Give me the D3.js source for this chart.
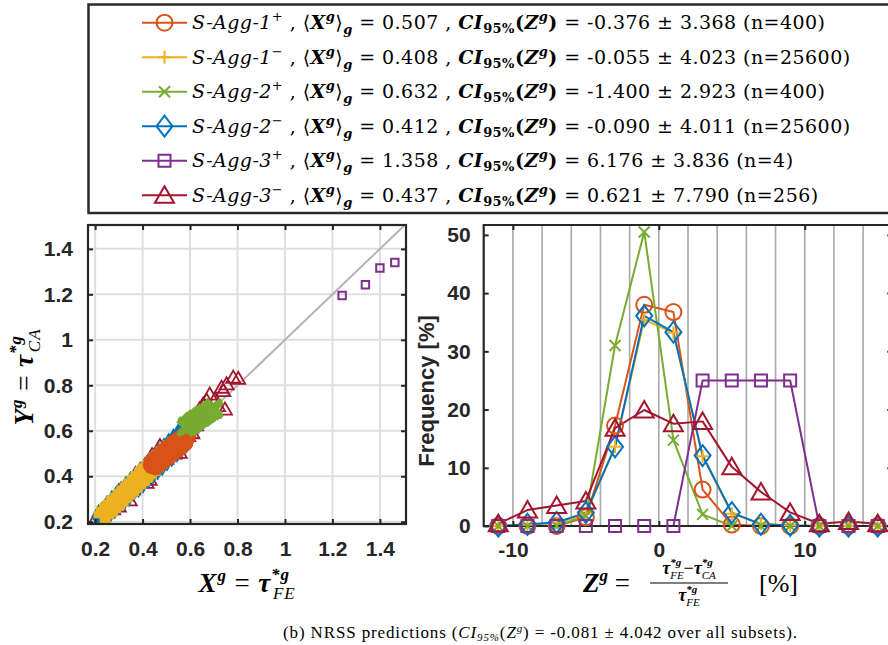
<!DOCTYPE html>
<html><head><meta charset="utf-8">
<script src="https://cdn.jsdelivr.net/npm/d3@7"></script>
<style>body{margin:0;background:#fff}svg{display:block}</style>
</head><body>
<svg id="c" width="888" height="645"></svg>
<script>
// ---------------- DATA ----------------
const seriesNames  = ["S-Agg-1","S-Agg-1","S-Agg-2","S-Agg-2","S-Agg-3","S-Agg-3"];
const seriesSigns  = ["+","\u2212","+","\u2212","+","\u2212"];
const seriesColors = ["#D95319","#EDB120","#77AC30","#0072BD","#7E2F8E","#A2142F"];
const seriesMarkers= ["circle","plus","x","diamond","square","triangle"];
const meanX  = ["0.507","0.408","0.632","0.412","1.358","0.437"];
const ciMean = ["-0.376","-0.055","-1.400","-0.090","6.176","0.621"];
const ciHalf = ["3.368","4.023","2.923","4.011","3.836","7.790"];
const nCount = ["400","25600","400","25600","4","256"];

// histogram of Z (right panel)
const binCenters = [-11,-9,-7,-5,-3,-1,1,3,5,7,9,11,13,15];
const freq1p = [0,0,0,1.5,17.25,38,36.75,6.25,0.25,0,0,0,0,0];
const freq1m = [0,0.2,0.5,2,13.6,35.4,33.2,12,2.1,0.4,0.1,0,0,0];
const freq2p = [0,0,0,1.75,31,50.5,14.75,2,0,0,0,0,0,0];
const freq2m = [0,0.3,0.6,2.3,13.6,36.1,33.3,12.1,2.3,0.3,0.1,0,0,0];
const freq3p = [0,0,0,0,0,0,0,25,25,25,25,0,0,0];
const freq3m = [0.39,2.73,3.52,4.3,16.8,19.92,17.58,17.97,10.16,5.86,2.34,0.39,0.78,0.39];
const binEdges = [-10,-8,-6,-4,-2,0,2,4,6,8,10,12,14];
const xTicksR = [-10,0,10];
const xTickLabelsR = ["-10","0","10"];
const yTicksR = [0,10,20,30,40,50];

// scatter X^g vs Y^g (left panel)
const xTicksL = [0.2,0.4,0.6,0.8,1,1.2,1.4];
const yTicksL = [0.2,0.4,0.6,0.8,1,1.2,1.4];
const tickLabelsL = ["0.2","0.4","0.6","0.8","1","1.2","1.4"];
const cloud1p = [[0.44,0.45],[0.445,0.465],[0.455,0.445],[0.46,0.468],[0.47,0.485],[0.475,0.462],[0.48,0.49],[0.49,0.505],[0.495,0.478],[0.50,0.505],[0.51,0.522],[0.515,0.495],[0.52,0.52],[0.53,0.54],[0.535,0.512],[0.54,0.535],[0.55,0.555],[0.555,0.53],[0.56,0.55],[0.57,0.57],[0.575,0.548],[0.58,0.565],[0.585,0.575]];
const cloud1m = [[0.235,0.232],[0.245,0.25],[0.25,0.238],[0.26,0.266],[0.265,0.254],[0.275,0.28],[0.28,0.268],[0.29,0.296],[0.295,0.283],[0.305,0.312],[0.31,0.298],[0.32,0.328],[0.325,0.313],[0.335,0.344],[0.34,0.328],[0.35,0.36],[0.355,0.343],[0.365,0.376],[0.37,0.358],[0.38,0.392],[0.385,0.373],[0.395,0.408],[0.40,0.388],[0.41,0.424],[0.415,0.403],[0.425,0.44],[0.43,0.418],[0.44,0.456],[0.445,0.433],[0.455,0.472],[0.46,0.448],[0.47,0.488],[0.475,0.463],[0.485,0.503],[0.49,0.478],[0.50,0.515],[0.505,0.493],[0.52,0.53]];
const cloud2p = [[0.58,0.612],[0.585,0.625],[0.595,0.617],[0.60,0.632],[0.61,0.625],[0.612,0.645],[0.622,0.637],[0.625,0.655],[0.635,0.648],[0.64,0.663],[0.65,0.656],[0.652,0.673],[0.662,0.665],[0.665,0.68],[0.675,0.674],[0.68,0.69],[0.69,0.684],[0.695,0.698],[0.705,0.693],[0.70,0.705]];
const cloud2m = [[0.215,0.222],[0.225,0.214],[0.23,0.236],[0.245,0.228],[0.25,0.262],[0.262,0.246],[0.27,0.284],[0.283,0.266],[0.29,0.305],[0.302,0.285],[0.31,0.326],[0.322,0.303],[0.33,0.347],[0.343,0.322],[0.35,0.368],[0.362,0.342],[0.37,0.389],[0.383,0.36],[0.39,0.41],[0.402,0.379],[0.41,0.431],[0.423,0.398],[0.43,0.452],[0.443,0.418],[0.45,0.473],[0.463,0.437],[0.47,0.494],[0.483,0.456],[0.49,0.515],[0.503,0.476],[0.51,0.536],[0.523,0.495],[0.53,0.556],[0.545,0.515],[0.55,0.577],[0.565,0.536],[0.57,0.596],[0.585,0.556],[0.58,0.604],[0.595,0.575]];
const cloud3p = [[1.241,1.195],[1.339,1.242],[1.40,1.316],[1.463,1.34]];
const cloud3m = [[0.205,0.212],[0.235,0.21],[0.276,0.25],[0.30,0.262],[0.346,0.29],[0.36,0.338],[0.417,0.367],[0.43,0.38],[0.30,0.33],[0.37,0.405],[0.44,0.488],[0.473,0.528],[0.50,0.472],[0.535,0.495],[0.557,0.499],[0.592,0.572],[0.61,0.585],[0.60,0.636],[0.625,0.62],[0.64,0.69],[0.655,0.711],[0.67,0.728],[0.683,0.755],[0.705,0.733],[0.697,0.675],[0.718,0.704],[0.747,0.689],[0.74,0.77],[0.733,0.785],[0.754,0.80],[0.782,0.829],[0.803,0.824]];

// ---------------- HELPERS ----------------
const svg = d3.select("#c");
const SERIF = "'Liberation Serif','Times New Roman',serif";
const MATH = "'DejaVu Serif','Liberation Serif',serif";
const SANS = "'Liberation Sans',Arial,Helvetica,sans-serif";

function rich(parent, x, y, parts, base) {
  const t = parent.append("text").attr("x", x).attr("y", y)
    .style("font-family", base.family).style("font-size", base.size + "px")
    .attr("fill", "#000");
  if (base.anchor) t.attr("text-anchor", base.anchor);
  let cur = 0, prev = null;
  parts.forEach(p => {
    const ts = t.append("tspan").text(p.t);
    const sh = p.sh || 0;
    if (sh - cur !== 0) ts.attr("dy", sh - cur);
    cur = sh;
    if (p.fs) ts.style("font-size", p.fs + "px");
    const s = p.s || "";
    ts.style("font-weight", s.includes("b") ? "bold" : "normal");
    ts.style("font-style", s.includes("i") ? "italic" : "normal");
    if (p.back && prev) ts.attr("dx", -prev.node().getComputedTextLength());
    prev = ts;
  });
  return t;
}
function fitWidth(t, target) {
  const w = t.node().getComputedTextLength();
  const nch = t.text().length;
  t.style("letter-spacing", ((target - w) / (nch - 1)) + "px");
}
function markerPath(type) {
  switch (type) {
    case "circle": return "M8,0A8,8 0 1,1 -8,0A8,8 0 1,1 8,0Z";
    case "plus": return "M-6.5,0H6.5M0,-6.5V6.5";
    case "x": return "M-5.5,-5.5L5.5,5.5M-5.5,5.5L5.5,-5.5";
    case "diamond": return "M0,-10.5L8,0L0,10.5L-8,0Z";
    case "square": return "M-6,-6H6V6H-6Z";
    case "triangle": return "M0,-9L9.5,7.5H-9.5Z";
  }
}

// ---------------- LEGEND ----------------
svg.append("rect").attr("x", 88.5).attr("y", 4.5).attr("width", 830).attr("height", 208.5)
  .attr("fill", "#fff").attr("stroke", "#2a2a2a").attr("stroke-width", 2.5);
const rowY = [22.7, 57.2, 91.7, 126.2, 160.7, 195.2];
const legendTexts = [];
seriesNames.forEach((nm, i) => {
  const y = rowY[i];
  const g = svg.append("g");
  g.append("line").attr("x1", 142).attr("x2", 187).attr("y1", y).attr("y2", y)
    .attr("stroke", seriesColors[i]).attr("stroke-width", 2);
  g.append("path").attr("transform", `translate(164.5,${y})`).attr("d", markerPath(seriesMarkers[i]))
    .attr("fill", "none").attr("stroke", seriesColors[i]).attr("stroke-width", 2);
  const t = rich(g, 192, y + 6.5, [
    {t: nm, s: "i"},
    {t: seriesSigns[i], s: "n", sh: -8, fs: 13},
    {t: " , \u27E8", s: "n", sh: 0},
    {t: "X", s: "bi"},
    {t: "g", s: "bi", sh: -8, fs: 13},
    {t: "\u27E9", s: "n", sh: 0},
    {t: "g", s: "bi", sh: 5, fs: 13},
    {t: " = " + meanX[i] + " , ", s: "n", sh: 0},
    {t: "CI", s: "bi"},
    {t: "95%", s: "b", sh: 4, fs: 13},
    {t: "(", s: "b", sh: 0},
    {t: "Z", s: "bi"},
    {t: "g", s: "bi", sh: -8, fs: 13},
    {t: ")", s: "b", sh: 0},
    {t: " = " + ciMean[i] + " \u00B1 " + ciHalf[i] + " (n=" + nCount[i] + ")", s: "n"}
  ], {family: MATH, size: 19});
  legendTexts.push(t);
});
{
  const w = legendTexts[0].node().getComputedTextLength();
  const nch = legendTexts[0].text().length;
  const ls = (633 - w) / (nch - 1);
  legendTexts.forEach(t => t.style("letter-spacing", ls + "px"));
}

// ---------------- LEFT PANEL ----------------
const L = {x0: 88, x1: 406, y0: 225, y1: 524};
const xL = d3.scaleLinear().domain([0.17, 1.51]).range([L.x0, L.x1]);
const yL = d3.scaleLinear().domain([0.19, 1.505]).range([L.y1, L.y0]);
svg.append("clipPath").attr("id", "clipL").append("rect")
  .attr("x", L.x0).attr("y", L.y0).attr("width", L.x1 - L.x0).attr("height", L.y1 - L.y0);
const gL = svg.append("g");
gL.selectAll(".gx").data(xTicksL).enter().append("line")
  .attr("x1", d => xL(d)).attr("x2", d => xL(d)).attr("y1", L.y0).attr("y2", L.y1)
  .attr("stroke", "#dedede").attr("stroke-width", 2);
gL.selectAll(".gy").data(yTicksL).enter().append("line")
  .attr("y1", d => yL(d)).attr("y2", d => yL(d)).attr("x1", L.x0).attr("x2", L.x1)
  .attr("stroke", "#dedede").attr("stroke-width", 2);
const pc = gL.append("g").attr("clip-path", "url(#clipL)");
pc.append("line").attr("x1", xL(0.1)).attr("y1", yL(0.1)).attr("x2", xL(1.6)).attr("y2", yL(1.6))
  .attr("stroke", "#b5b5b5").attr("stroke-width", 2);

function scatter(data, color, sym, size, filled, sw) {
  pc.append("g").selectAll("path").data(data).enter().append("path")
    .attr("transform", d => `translate(${xL(d[0])},${yL(d[1])})`)
    .attr("d", d3.symbol().type(sym).size(size))
    .attr("fill", filled ? color : "none").attr("stroke", color).attr("stroke-width", sw);
}
scatter(cloud3m, seriesColors[5], d3.symbolTriangle, 85, false, 1.8);
scatter(cloud2m, seriesColors[3], d3.symbolDiamond, 150, true, 1.5);
scatter(cloud1m, seriesColors[1], d3.symbolCross, 185, true, 1.5);
scatter(cloud1p, seriesColors[0], d3.symbolCircle, 250, true, 1);
scatter(cloud2p, seriesColors[2], d3.symbolTimes, 150, false, 4.5);
scatter(cloud3p, seriesColors[4], d3.symbolSquare, 55, false, 2);

gL.append("rect").attr("x", L.x0).attr("y", L.y0).attr("width", L.x1 - L.x0).attr("height", L.y1 - L.y0)
  .attr("fill", "none").attr("stroke", "#262626").attr("stroke-width", 2.2);

function styleAxis(g, fs) {
  g.select(".domain").remove();
  g.selectAll(".tick line").attr("stroke", "#262626").attr("stroke-width", 2);
  g.selectAll(".tick text").attr("fill", "#262626").style("font-family", SANS)
    .style("font-weight", "bold").style("font-size", fs + "px");
}
styleAxis(svg.append("g").attr("transform", `translate(0,${L.y1})`)
  .call(d3.axisBottom(xL).tickValues(xTicksL).tickFormat((d, i) => tickLabelsL[i]).tickSize(-5).tickPadding(17)), 21);
styleAxis(svg.append("g").attr("transform", `translate(0,${L.y0})`)
  .call(d3.axisTop(xL).tickValues(xTicksL).tickFormat("").tickSize(-5)), 21);
styleAxis(svg.append("g").attr("transform", `translate(${L.x0},0)`)
  .call(d3.axisLeft(yL).tickValues(yTicksL).tickFormat((d, i) => tickLabelsL[i]).tickSize(-5).tickPadding(15)), 21);
styleAxis(svg.append("g").attr("transform", `translate(${L.x1},0)`)
  .call(d3.axisRight(yL).tickValues(yTicksL).tickFormat("").tickSize(-5)), 21);

// left labels
const yLab = rich(svg.append("g").attr("transform", "translate(33,377) rotate(-90)"), 0, 0, [
  {t: "Y", s: "bi"}, {t: "g", s: "bi", sh: -11, fs: 17}, {t: " = ", s: "n", sh: 0},
  {t: "\u03C4", s: "bi"}, {t: "*g", s: "bi", sh: -12, fs: 17}, {t: "CA", s: "i", sh: 7, fs: 17, back: true}
], {family: SERIF, size: 27, anchor: "middle"});
fitWidth(yLab, 113);
const xLab = rich(svg, 247, 592, [
  {t: "X", s: "bi"}, {t: "g", s: "bi", sh: -11, fs: 17}, {t: " = ", s: "n", sh: 0},
  {t: "\u03C4", s: "bi"}, {t: "*g", s: "bi", sh: -12, fs: 17}, {t: "FE", s: "i", sh: 7, fs: 17, back: true}
], {family: SERIF, size: 27, anchor: "middle"});
fitWidth(xLab, 113);

// ---------------- RIGHT PANEL ----------------
const R = {x0: 483.7, x1: 892.3, y0: 225, y1: 526};
const xR = d3.scaleLinear().domain([-12, 16]).range([R.x0, R.x1]);
const yR = d3.scaleLinear().domain([0, 51.7]).range([R.y1, R.y0]);
const gR = svg.append("g");
gR.selectAll(".ge").data(binEdges).enter().append("line")
  .attr("x1", d => xR(d)).attr("x2", d => xR(d)).attr("y1", R.y0).attr("y2", R.y1)
  .attr("stroke", "#a8a8a8").attr("stroke-width", 1.6);

const freqSeries = [freq1p, freq1m, freq2p, freq2m, freq3p, freq3m];
const lineGen = d3.line().x((d, i) => xR(binCenters[i])).y(d => yR(d));
freqSeries.forEach((f, s) => {
  gR.append("path").attr("d", lineGen(f)).attr("fill", "none")
    .attr("stroke", seriesColors[s]).attr("stroke-width", 2).attr("stroke-linejoin", "round");
});
// axes lines
gR.append("line").attr("x1", R.x0).attr("x2", R.x0).attr("y1", R.y0 - 1).attr("y2", R.y1 + 1).attr("stroke", "#262626").attr("stroke-width", 2.2);
gR.append("line").attr("x1", R.x0).attr("x2", R.x1).attr("y1", R.y0).attr("y2", R.y0).attr("stroke", "#262626").attr("stroke-width", 2.2);
gR.append("line").attr("x1", R.x0).attr("x2", R.x1).attr("y1", R.y1).attr("y2", R.y1).attr("stroke", "#262626").attr("stroke-width", 2.2);
gR.append("line").attr("x1", R.x1).attr("x2", R.x1).attr("y1", R.y0).attr("y2", R.y1).attr("stroke", "#262626").attr("stroke-width", 2.2);
styleAxis(svg.append("g").attr("transform", `translate(0,${R.y1})`)
  .call(d3.axisBottom(xR).tickValues(xTicksR).tickFormat((d, i) => xTickLabelsR[i]).tickSize(-5).tickPadding(16)), 21);
styleAxis(svg.append("g").attr("transform", `translate(0,${R.y0})`)
  .call(d3.axisTop(xR).tickValues(xTicksR).tickFormat("").tickSize(-5)), 21);
styleAxis(svg.append("g").attr("transform", `translate(${R.x0},0)`)
  .call(d3.axisLeft(yR).tickValues(yTicksR).tickFormat(d3.format("d")).tickSize(-5).tickPadding(13)), 21);
styleAxis(svg.append("g").attr("transform", `translate(${R.x1},0)`)
  .call(d3.axisRight(yR).tickValues(yTicksR).tickFormat("").tickSize(-5)), 21);
// markers on top
freqSeries.forEach((f, s) => {
  svg.append("g").selectAll("path").data(f).enter().append("path")
    .attr("transform", (d, i) => `translate(${xR(binCenters[i])},${yR(d)})`)
    .attr("d", markerPath(seriesMarkers[s]))
    .attr("fill", "none").attr("stroke", seriesColors[s]).attr("stroke-width", 2);
});

// right labels
svg.append("text").attr("transform", "translate(434,391) rotate(-90)").attr("text-anchor", "middle")
  .style("font-family", SANS).style("font-weight", "bold").style("font-size", "22px").attr("fill", "#262626")
  .text("Frequency [%]");
rich(svg, 583, 592, [
  {t: "Z", s: "bi"}, {t: "g", s: "bi", sh: -11, fs: 17}, {t: " = ", s: "n", sh: 0}
], {family: SERIF, size: 27});
rich(svg, 689, 574, [
  {t: "\u03C4", s: "bi"}, {t: "*g", s: "bi", sh: -8, fs: 11}, {t: "FE", s: "i", sh: 5, fs: 11, back: true},
  {t: "\u2212", s: "n", sh: 0},
  {t: "\u03C4", s: "bi"}, {t: "*g", s: "bi", sh: -8, fs: 11}, {t: "CA", s: "i", sh: 5, fs: 11, back: true}
], {family: SERIF, size: 18, anchor: "middle"});
svg.append("line").attr("x1", 650).attr("x2", 728).attr("y1", 583).attr("y2", 583).attr("stroke", "#000").attr("stroke-width", 1.2);
rich(svg, 689, 601, [
  {t: "\u03C4", s: "bi"}, {t: "*g", s: "bi", sh: -8, fs: 11}, {t: "FE", s: "i", sh: 5, fs: 11, back: true}
], {family: SERIF, size: 18, anchor: "middle"});
svg.append("text").attr("x", 759).attr("y", 592).style("font-family", SERIF).style("font-size", "26px").text("[%]");

// ---------------- CAPTION ----------------
const cap = rich(svg, 283, 638, [
  {t: "(b) NRSS predictions (", s: "n"}, {t: "CI", s: "i"}, {t: "95%", s: "i", sh: 3, fs: 11},
  {t: "(", s: "n", sh: 0}, {t: "Z", s: "i"}, {t: "g", s: "i", sh: -6, fs: 11},
  {t: ") = -0.081 \u00B1 4.042 over all subsets).", s: "n", sh: 0}
], {family: SERIF, size: 17});
fitWidth(cap, 514);
</script>
</body></html>
